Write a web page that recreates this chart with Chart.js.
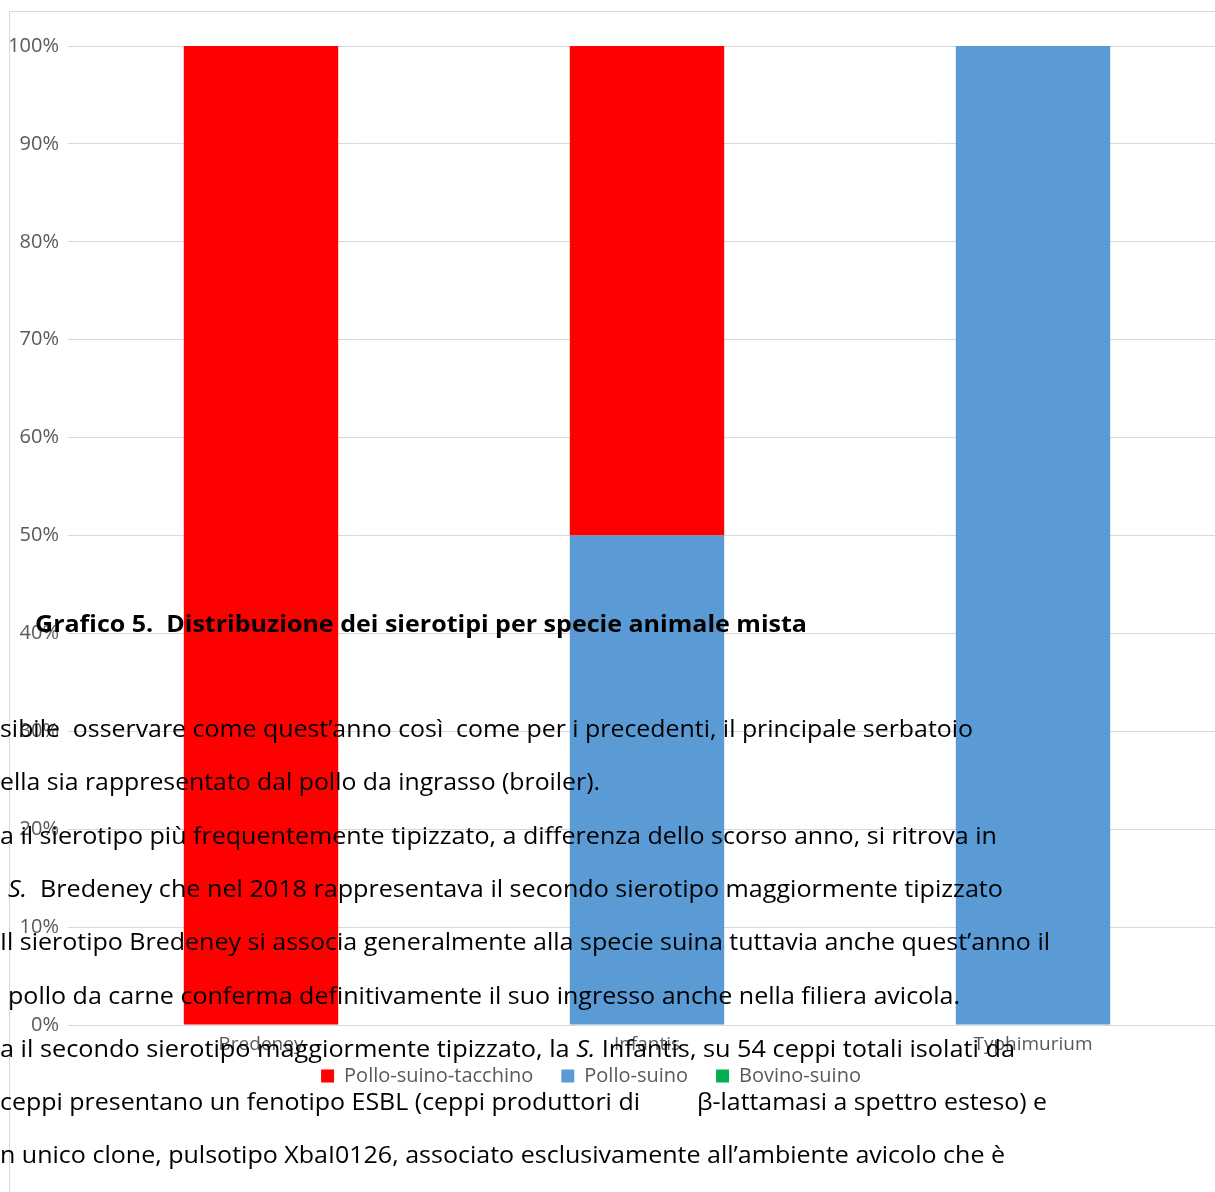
<!DOCTYPE html>
<html>
<head>
<meta charset="utf-8">
<script src="https://cdn.jsdelivr.net/npm/chart.js@4.4.0/dist/chart.umd.min.js"></script>
<style>
  html, body { margin: 0; padding: 0; background: #fff; overflow: hidden; width: 1215px; height: 1192px; }
  #frame { position: absolute; left: 9px; top: 11px; width: 1400px; height: 1400px;
           border-top: 1px solid #d9d9d9; border-left: 1px solid #d9d9d9; }
  #chart { position: absolute; left: 0; top: 0; }
  #overlay { position: absolute; left: 0; top: 0; width: 1215px; height: 1192px; pointer-events: none; }
  .ln { position: absolute; white-space: pre; font-family: "Open Sans"; font-size: 24px;
        line-height: 24px; color: #000; transform-origin: 0 0; }
  .ln.bold { font-weight: bold; }
</style>
</head>
<body>
<div id="frame"></div>
<canvas id="chart" width="1240" height="1192"></canvas>
<div id="overlay"></div>
<script>
// chart data
const categories = ['Bredeney', 'Infantis', 'Typhimurium'];
const polloSuinoTacchino = [1, 0.5, 0];
const polloSuino = [0, 0.5, 1];
const bovinoSuino = [0, 0, 0];
const legendOrder = ['Pollo-suino-tacchino', 'Pollo-suino', 'Bovino-suino'];

// document text that lies over the chart in the picture
const docLines = [
  { x: 35, base: 632, right: 807, bold: true, html: 'Grafico 5.  Distribuzione dei sierotipi per specie animale mista' },
  { x: 0, base: 737, right: 973, html: 'sibile  osservare come quest’anno così  come per i precedenti, il principale serbatoio' },
  { x: 0, base: 790, right: 600, html: 'ella sia rappresentato dal pollo da ingrasso (broiler).' },
  { x: 0, base: 844, right: 997, html: 'a il sierotipo più frequentemente tipizzato, a differenza dello scorso anno, si ritrova in' },
  { x: 8, base: 897, right: 1003, html: '<i>S.</i>  Bredeney che nel 2018 rappresentava il secondo sierotipo maggiormente tipizzato' },
  { x: 0, base: 950, right: 1050, html: 'Il sierotipo Bredeney si associa generalmente alla specie suina tuttavia anche quest’anno il' },
  { x: 8, base: 1004, right: 960, html: 'pollo da carne conferma definitivamente il suo ingresso anche nella filiera avicola.' },
  { x: 0, base: 1057, right: 1015, html: 'a il secondo sierotipo maggiormente tipizzato, la <i>S.</i> Infantis, su 54 ceppi totali isolati da' },
  { x: 0, base: 1110, right: 640, html: 'ceppi presentano un fenotipo ESBL (ceppi produttori di' },
  { x: 697, base: 1110, right: 1047, html: 'β-lattamasi a spettro esteso) e' },
  { x: 0, base: 1163, right: 1005, html: 'n unico clone, pulsotipo XbaI0126, associato esclusivamente all’ambiente avicolo che è' }
];

Chart.defaults.font.family = '"Open Sans", sans-serif';
Chart.defaults.color = '#595959';

// move the legend a bit left and up, where the picture has it
const legendShift = {
  id: 'legendShift',
  afterLayout(chart) {
    chart.legend.left -= 22;
    chart.legend.right -= 22;
    chart.legend.top -= 23;
    chart.legend.bottom -= 23;
  }
};

new Chart(document.getElementById('chart').getContext('2d'), {
  type: 'bar',
  data: {
    labels: categories,
    datasets: [
      { label: 'Pollo-suino', data: polloSuino, backgroundColor: '#5b9bd5' },
      { label: 'Pollo-suino-tacchino', data: polloSuinoTacchino, backgroundColor: '#ff0000' },
      { label: 'Bovino-suino', data: bovinoSuino, backgroundColor: '#00b050' }
    ]
  },
  options: {
    responsive: false,
    animation: false,
    datasets: { bar: { categoryPercentage: 1, barPercentage: 0.4, borderWidth: 0 } },
    layout: { padding: { left: 0, right: 14, top: 46, bottom: 73 } },
    plugins: {
      tooltip: { enabled: false },
      legend: {
        position: 'bottom',
        labels: {
          boxWidth: 13, boxHeight: 13, padding: 28,
          font: { size: 20 }, color: '#595959',
          sort: (a, b) => legendOrder.indexOf(a.text) - legendOrder.indexOf(b.text)
        }
      }
    },
    scales: {
      x: {
        stacked: true,
        grid: { display: false, drawTicks: false },
        border: { display: false },
        ticks: { font: { size: 19 }, padding: 8, color: '#595959' },
        afterFit: s => { s.height = 36; }
      },
      y: {
        stacked: true, min: 0, max: 1,
        grid: { color: '#d9d9d9', drawTicks: false },
        border: { display: false },
        ticks: { stepSize: 0.1, padding: 9, font: { size: 20 }, color: '#595959',
                 callback: v => Math.round(v * 100) + '%' },
        afterFit: s => { s.width = 68; }
      }
    }
  },
  plugins: [legendShift]
});

// place the overlay text and stretch each line to its width in the picture
const $overlay = document.getElementById('overlay');
docLines.forEach(function(line) {
  const el = document.createElement('div');
  el.className = 'ln' + (line.bold ? ' bold' : '');
  el.innerHTML = line.html;
  el.style.left = line.x + 'px';
  el.style.top = (line.base - 0.888 * 24) + 'px';
  $overlay.appendChild(el);
  const w = el.getBoundingClientRect().width;
  el.style.transform = 'scaleX(' + ((line.right - line.x) / w).toFixed(4) + ')';
});
</script>
</body>
</html>
